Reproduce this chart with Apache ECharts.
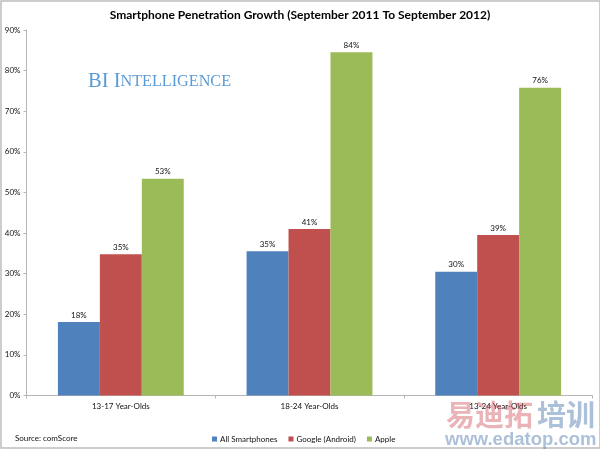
<!DOCTYPE html>
<html><head><meta charset="utf-8">
<style>html,body{margin:0;padding:0;background:#fff}#c{width:600px;height:450px}</style>
<script src="https://cdn.jsdelivr.net/npm/echarts@6/dist/echarts.min.js"></script>
</head><body><div id="c"></div>
<script>
const categories = ['13-17 Year-Olds','18-24 Year-Olds','13-24 Year-Olds'];
const allSmartphones = [18.1,35.5,30.5];
const googleAndroid = [34.8,41,39.5];
const apple = [53.4,84.5,75.8];
const allLabels = ['18%','35%','30%'];
const googleLabels = ['35%','41%','39%'];
const appleLabels = ['53%','84%','76%'];
const FONT = 'Lato';
const chart = echarts.init(document.getElementById('c'),null,{renderer:'canvas'});
function s(name,data,labels,color){
  return {name,type:'bar',data,barGap:0,barCategoryGap:'33.3%',
    itemStyle:{color},animation:false,
    label:{show:true,position:'top',distance:3,fontFamily:FONT,fontSize:8,color:'#111',
      formatter:p=>labels[p.dataIndex]}};
}
chart.setOption({
  animation:false,
  backgroundColor:'#fff',
  title:{text:'Smartphone Penetration Growth (September 2011 To September 2012)',left:295,top:4,textAlign:'center',
    textStyle:{fontFamily:FONT,fontSize:12,fontWeight:'bold',color:'#000'}},
  grid:{left:26.5,right:7.5,top:30,bottom:54.5,containLabel:false},
  legend:{left:207,top:430,itemWidth:5,itemHeight:5,itemGap:11,icon:'rect',
    textStyle:{fontFamily:FONT,fontSize:8,color:'#111',padding:[0,0,0,-2]},
    data:['All Smartphones','Google (Android)','Apple']},
  xAxis:{type:'category',data:categories,
    axisLine:{lineStyle:{color:'#b5b5b5',width:1}},
    axisTick:{show:true,alignWithLabel:false,length:3,lineStyle:{color:'#b5b5b5'}},
    axisLabel:{fontFamily:FONT,fontSize:8,color:'#111',margin:7}},
  yAxis:{type:'value',min:0,max:90,interval:10,
    axisLine:{show:true,lineStyle:{color:'#b5b5b5',width:1}},
    axisTick:{show:true,length:3,lineStyle:{color:'#b5b5b5'}},
    splitLine:{show:false},
    axisLabel:{fontFamily:FONT,fontSize:8,color:'#111',margin:6,formatter:'{value}%'}},
  series:[
    s('All Smartphones',allSmartphones,allLabels,'#4f81bd'),
    s('Google (Android)',googleAndroid,googleLabels,'#c0504d'),
    s('Apple',apple,appleLabels,'#9bbb59')
  ],
  graphic:[
    {type:'rect',silent:true,z:-1,shape:{x:1,y:1,width:599,height:447},style:{fill:'none',stroke:'#bdbdbd',lineWidth:1.5}},
    {type:'text',silent:true,left:15,top:434,style:{text:'Source: comScore',font:'8px Lato',fill:'#111'}},
    {type:'text',silent:true,left:88,top:71,style:{
      text:'{a|BI I}{b|NTELLIGENCE}',fill:'#5b9bd5',
      rich:{a:{fontSize:20.5,fontFamily:'Liberation Serif',fill:'#5b9bd5'},
            b:{fontSize:16.2,fontFamily:'Liberation Serif',fill:'#5b9bd5'}}}},
    {type:'text',silent:true,z:100,left:446,top:400,style:{text:'易迪拓',font:'bold 29px "Noto Sans CJK SC"',fill:'rgba(205,75,85,0.42)'}},
    {type:'text',silent:true,z:100,left:537,top:400,style:{text:'培训',font:'bold 29px "Noto Sans CJK SC"',fill:'rgba(90,130,180,0.5)'}},
    {type:'text',silent:true,z:100,left:445,top:430,style:{text:'www.edatop.com',font:'bold 18.5px "Liberation Sans"',fill:'rgba(90,130,180,0.5)'}}
  ]
});
</script></body></html>
